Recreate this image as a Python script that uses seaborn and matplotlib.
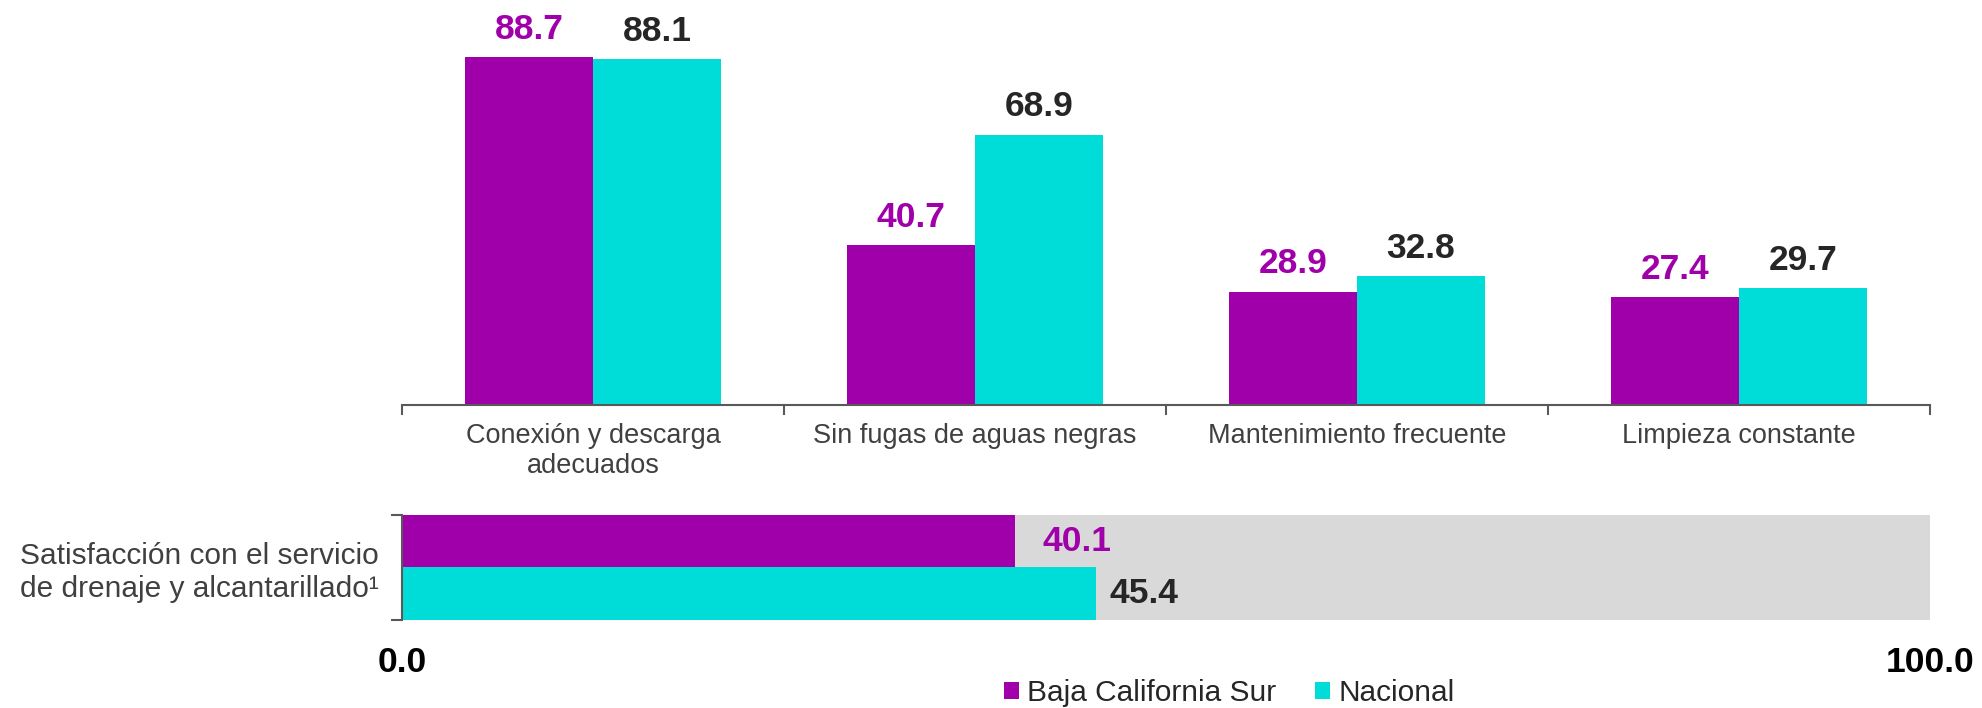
import pandas as pd
import matplotlib
matplotlib.use("Agg")
import matplotlib.pyplot as plt
from matplotlib.ticker import FixedLocator
import seaborn as sns

# ------------------------------------
# Data
# ------------------------------------
categorias = ["Conexión y descarga\nadecuados", "Sin fugas de aguas negras",
              "Mantenimiento frecuente", "Limpieza constante"]
series = ["Baja California Sur", "Nacional"]
valores_bcs = [88.7, 40.7, 28.9, 27.4]
valores_nacional = [88.1, 68.9, 32.8, 29.7]

indicador_satisfaccion = "Satisfacción con el servicio\nde drenaje y alcantarillado¹"
satisfaccion_bcs = 40.1
satisfaccion_nacional = 45.4
eje_ticks = [0, 100]
eje_labels = ["0.0", "100.0"]

# ------------------------------------
# Style
# ------------------------------------
PURPLE = "#A000AA"
CYAN = "#00DDD8"
GREY_BG = "#D9D9D9"
DARK = "#262626"
TEXT = "#404040"
SPINE = "#595959"

sns.set_theme(style="white")
plt.rcParams["font.family"] = ["Liberation Sans", "DejaVu Sans"]

df_top = pd.DataFrame({
    "categoria": categorias * 2,
    "serie": [series[0]] * 4 + [series[1]] * 4,
    "valor": valores_bcs + valores_nacional,
})
df_bottom = pd.DataFrame({
    "indicador": [indicador_satisfaccion] * 2,
    "serie": series,
    "valor": [satisfaccion_bcs, satisfaccion_nacional],
})
palette = {series[0]: PURPLE, series[1]: CYAN}

fig = plt.figure(figsize=(19.83, 7.08), dpi=100)
ax1 = fig.add_axes([0.2027, 0.428, 0.7706, 0.572])
ax2 = fig.add_axes([0.2027, 0.1243, 0.7706, 0.1483])

# ------------------------------------
# Top: vertical grouped bars
# ------------------------------------
sns.barplot(data=df_top, x="categoria", y="valor", hue="serie",
            palette=palette, width=0.67, saturation=1, linewidth=0, ax=ax1)
handles, labels = ax1.get_legend_handles_labels()
ax1.get_legend().remove()

label_colors = [PURPLE, DARK]
for cont, col in zip(ax1.containers, label_colors):
    ax1.bar_label(cont, fmt="%.1f", padding=8, color=col,
                  fontsize=25.5, fontweight="bold")

ax1.set_ylim(0, 103.2)
ax1.set_xlim(-0.5, 3.5)
ax1.set_xlabel("")
ax1.set_ylabel("")
ax1.set_yticks([])
for s in ["top", "right", "left"]:
    ax1.spines[s].set_visible(False)
ax1.spines["bottom"].set_color(SPINE)
ax1.spines["bottom"].set_linewidth(1.5)
ax1.tick_params(axis="x", which="major", length=0, pad=13,
                labelsize=19.5, labelcolor=TEXT)
ax1.xaxis.set_minor_locator(FixedLocator([-0.5, 0.5, 1.5, 2.5, 3.5]))
ax1.tick_params(axis="x", which="minor", bottom=True, length=7,
                width=1.5, color=SPINE, direction="out")

# ------------------------------------
# Bottom: horizontal satisfaction bars
# ------------------------------------
sns.barplot(data=df_bottom, x="valor", y="indicador", hue="serie",
            palette=palette, orient="h", width=1, saturation=1,
            linewidth=0, legend=False, ax=ax2)
ax2.set_facecolor(GREY_BG)
ax2.set_xlim(0, 100)
ax2.set_ylim(0.5, -0.5)
ax2.set_xlabel("")
ax2.set_ylabel("")

for cont, col, pad in zip(ax2.containers, label_colors, [20, 10]):
    ax2.bar_label(cont, fmt="%.1f", padding=pad, color=col,
                  fontsize=25.5, fontweight="bold")

ax2.set_xticks(eje_ticks, labels=eje_labels)
ax2.tick_params(axis="x", length=0, pad=19, labelsize=25.5)
for lab in ax2.get_xticklabels():
    lab.set_fontweight("bold")
    lab.set_color("black")

ax2.set_yticks([0], labels=[indicador_satisfaccion])
ax2.tick_params(axis="y", which="major", length=0, pad=17,
                labelsize=21.5, labelcolor=TEXT)
for lab in ax2.get_yticklabels():
    lab.set_multialignment("center")
ax2.yaxis.set_minor_locator(FixedLocator([-0.5, 0.5]))
ax2.tick_params(axis="y", which="minor", left=True, length=8,
                width=1.5, color=SPINE, direction="out")
for s in ["top", "right", "bottom"]:
    ax2.spines[s].set_visible(False)
ax2.spines["left"].set_color(SPINE)
ax2.spines["left"].set_linewidth(1.5)

# ------------------------------------
# Legend
# ------------------------------------
fig.legend(handles, labels, loc="center", bbox_to_anchor=(0.62, 0.021),
           ncol=2, frameon=False, fontsize=21.5, handlelength=0.5,
           handleheight=0.5, handletextpad=0.27, columnspacing=1.3,
           labelcolor=DARK)

fig.savefig("out.png", dpi=100)
